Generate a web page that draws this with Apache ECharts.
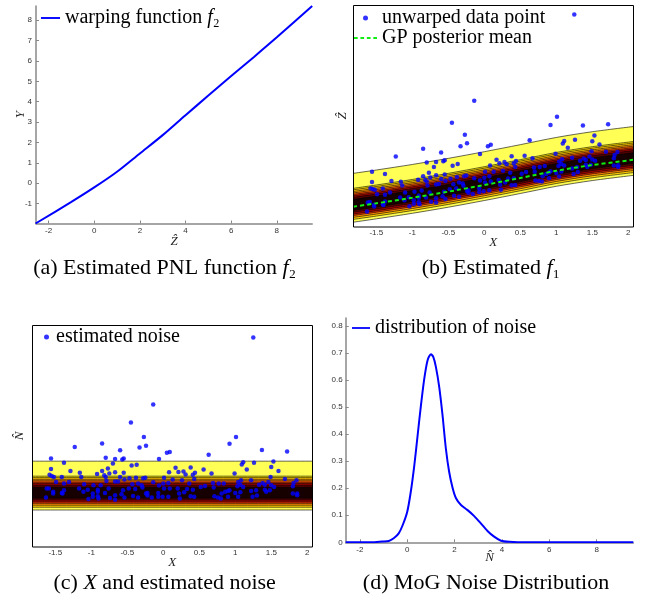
<!DOCTYPE html>
<html><head><meta charset="utf-8">
<script src="https://cdn.jsdelivr.net/npm/echarts@6/dist/echarts.min.js"></script>
<style>html,body{margin:0;padding:0;background:#fff}#c{width:649px;height:605px}</style>
</head><body><div id="c"></div>
<script>
// (a) warping function f2
const warpZ = [-2.57, -1, 0, 1, 2, 3, 4, 5, 6, 7, 8, 9.55];
const warpY = [-1.98, -0.92, -0.21, 0.56, 1.46, 2.36, 3.34, 4.30, 5.26, 6.20, 7.16, 8.70];
// (b)/(c) data: X, estimated noise N, unwarped value Z
const dataX = [1.25,-0.14,-0.45,-0.27,1.01,-1.23,-0.85,-0.60,-0.33,-0.24,0.05,0.09,-1.56,-0.80,-0.67,-0.57,-0.55,-0.06,-1.38,-0.70,
-0.44,-0.37,-1.56,-0.77,-1.29,-0.85,-1.16,-0.92,-0.75,-0.67,-0.55,-1.58,-1.55,-1.52,-1.41,-1.14,-0.80,-0.82,-0.60,-0.47,
-0.38,-0.28,-0.25,0.01,0.08,-1.49,-1.31,-1.38,-1.10,-0.97,-0.87,-0.79,-0.67,-0.63,-0.54,-0.43,-0.35,-0.30,-0.14,-0.06,
0.00,0.07,-1.62,-1.59,-1.53,-1.41,-1.38,-1.17,-1.05,-0.98,-0.91,-0.91,-0.76,-0.56,-0.48,-0.39,-0.29,-0.22,-0.07,0.01,
0.09,-1.63,-1.53,-1.40,-1.11,-1.04,-0.98,-0.91,-0.90,-0.81,-0.74,-0.67,-0.67,-0.58,-0.54,-0.42,-0.35,-0.24,-0.22,-0.16,
-0.07,-0.01,0.07,0.92,1.37,1.72,0.63,1.11,1.09,1.26,1.53,1.50,1.60,0.17,0.21,0.28,0.38,0.44,0.31,0.41,
0.56,0.67,0.99,1.16,1.49,0.13,0.26,0.43,1.08,1.04,1.22,1.69,1.85,1.81,0.36,0.52,0.58,0.69,0.77,0.70,
0.84,1.03,1.07,1.11,1.33,1.38,1.41,1.46,1.50,1.54,1.80,0.20,0.33,0.41,0.29,0.22,1.00,1.07,0.90,0.92,
0.86,0.81,1.22,1.29,1.41,1.43,1.48,1.80,1.86,1.86,0.23,0.38,0.43,0.71,0.76,0.80,0.90,1.04,1.24,1.30];
const noiseN = [8.83,5.20,4.23,3.45,3.45,2.91,3.09,2.73,2.88,2.97,2.59,2.64,2.28,2.32,2.26,2.23,2.28,2.26,2.05,2.01,
1.90,1.94,1.72,1.74,1.61,1.61,1.51,1.45,1.47,1.54,1.51,1.40,1.34,1.29,1.29,1.29,1.29,1.38,1.29,1.22,
1.25,1.22,1.24,1.25,1.54,1.02,1.02,0.93,0.89,0.84,0.84,1.07,1.04,1.04,1.15,0.89,0.93,0.84,1.00,0.82,
0.93,0.96,0.66,0.66,0.48,0.42,0.57,0.66,0.60,0.39,0.60,0.48,0.66,0.57,0.66,0.64,0.71,0.42,0.42,0.66,
0.66,0.17,0.39,0.39,0.48,0.10,0.21,0.24,0.12,0.42,0.15,0.30,0.06,0.35,0.17,0.26,0.17,0.39,0.28,0.17,
0.21,0.21,0.21,3.08,2.75,2.66,2.48,2.08,1.96,2.05,2.12,1.83,1.61,1.78,1.56,1.58,1.80,1.51,1.42,1.40,
1.69,1.47,1.47,1.69,1.29,1.15,1.11,1.18,1.11,1.02,1.11,1.18,1.11,0.96,0.93,0.75,0.80,0.96,0.93,0.71,
0.93,0.78,0.87,0.75,0.87,0.96,0.86,1.02,0.84,0.75,0.78,0.66,0.64,0.60,0.46,0.39,0.42,0.46,0.53,0.57,
0.48,0.39,0.53,0.57,0.60,0.48,0.57,0.39,0.39,0.30,0.12,0.24,0.21,0.24,0.17,0.12,0.21,0.21,0.21,0.28];
const zHat = [8.98,4.33,3.13,2.49,3.46,1.31,1.73,1.53,1.87,2.03,1.86,1.94,0.49,0.99,1.02,1.05,1.11,1.45,0.36,0.75,
0.81,0.90,-0.07,0.43,-0.02,0.25,-0.05,0.05,0.17,0.30,0.34,-0.40,-0.45,-0.48,-0.42,-0.25,-0.04,0.04,0.09,0.11,
0.20,0.25,0.29,0.49,0.83,-0.73,-0.63,-0.76,-0.63,-0.60,-0.53,-0.25,-0.20,-0.18,-0.01,-0.19,-0.10,-0.15,0.13,0.01,
0.16,0.24,-1.17,-1.15,-1.30,-1.29,-1.12,-0.90,-0.89,-1.06,-0.80,-0.92,-0.64,-0.60,-0.46,-0.41,-0.27,-0.51,-0.40,-0.10,
-0.04,-1.66,-1.39,-1.31,-1.05,-1.38,-1.24,-1.16,-1.27,-0.91,-1.14,-0.94,-1.18,-0.84,-0.99,-0.81,-0.86,-0.55,-0.65,-0.71,
-0.61,-0.57,-0.51,3.02,2.98,3.06,2.19,2.15,2.01,2.21,2.44,2.14,1.96,1.14,0.95,1.02,1.32,1.07,0.89,0.94,
1.35,1.22,1.46,1.79,1.59,0.48,0.54,0.74,1.16,1.04,1.24,1.57,1.56,1.39,0.43,0.38,0.47,0.72,0.75,0.48,
0.80,0.80,0.91,0.82,1.08,1.20,1.12,1.31,1.15,1.08,1.21,0.04,0.12,0.14,-0.09,-0.21,0.42,0.50,0.45,0.51,
0.37,0.24,0.66,0.75,0.86,0.75,0.87,0.82,0.84,0.75,-0.48,-0.24,-0.23,0.02,-0.02,-0.04,0.13,0.23,0.36,0.47];
// GP posterior mean (b)
const meanX = [-1.82, -1.5, -1.0, -0.5, 0.0, 0.5, 1.0, 1.5, 2.07];
const meanZ = [-1.40, -1.22, -0.92, -0.59, -0.23, 0.15, 0.54, 0.85, 1.13];
// contour levels of the noise density band, in N coordinates (c)
const contourLevels = [-0.50,-0.35,-0.24,-0.14,-0.06,0.04,0.14,0.73,0.84,0.93,1.00,1.08,1.16,1.25,1.33,2.14];
const bandColors = ['#ffff55','#ffcc00','#ff8c00','#e83000','#a00000','#580000','#160000','#580000','#a00000','#e83000','#ff6000','#ff9a00','#ffc400','#ffe600','#ffff55'];
const meanLevelN = 0.34;
const cX = [-1.82, 2.07];
const cBase = [0, 0];
// (d) MoG noise density
const densX = [-2.6,-1.5,-1.06,-0.78,-0.57,-0.36,-0.19,0,0.15,0.30,0.44,0.58,0.72,0.86,1.00,1.10,1.21,1.35,1.49,1.63,1.77,1.92,2.06,2.27,2.55,2.83,3.11,3.39,3.67,3.96,4.31,5.0,9.55];
const densY = [0,0,0.003,0.005,0.015,0.033,0.064,0.113,0.187,0.286,0.397,0.508,0.606,0.674,0.696,0.686,0.649,0.575,0.471,0.348,0.261,0.200,0.163,0.138,0.119,0.097,0.070,0.042,0.021,0.006,0.002,0,0];
// tick labels
const aXTicks = [-2,0,2,4,6,8];
const aYTicks = [-1,0,1,2,3,4,5,6,7,8];
const bcXTicks = [-1.5,-1,-0.5,0,0.5,1,1.5,2];
const dXTicks = [-2,0,2,4,6,8];
const dYTicks = [0,0.1,0.2,0.3,0.4,0.5,0.6,0.7,0.8];

const SERIF = "'Liberation Serif','DejaVu Serif',serif";
const SANS = "'Liberation Sans','DejaVu Sans',sans-serif";
const zip = (a, b) => a.map((v, i) => [v, b[i]]);

// legend icons: a solid line and a dashed line
const SOLID_ICON = 'path://M0,0h10v1h-10z';
const DASH_ICON = 'path://M0,0h4v2h-4z M7,0h4v2h-4z M14,0h4v2h-4z M21,0h4v2h-4z';

// filled contour bands: each boundary is filled down to the axis start, top boundary first,
// so the band between two boundaries keeps the colour of the upper boundary's fill
function bandSeries(xs, base, offs, idx) {
  const out = [];
  for (let k = offs.length - 1; k >= 0; k--) {
    out.push({
      type: 'line', xAxisIndex: idx, yAxisIndex: idx,
      data: xs.map((x, i) => [x, base[i] + offs[k]]),
      symbol: 'none', showSymbol: false, smooth: 0.3, silent: true, z: 1,
      lineStyle: { color: '#000', width: 0.6 },
      areaStyle: { color: k > 0 ? bandColors[k - 1] : '#ffffff', opacity: 1, origin: 'start' }
    });
  }
  return out;
}

const tickLbl = (vals, margin) => ({ customValues: vals, fontSize: 8, color: '#333', fontFamily: SANS, margin: margin });
const nameStyle = { fontFamily: SERIF, fontStyle: 'italic', fontSize: 13, color: '#222' };
const grayLine = { show: true, onZero: false, lineStyle: { color: '#888', width: 1.5 } };

const legendText = { fontFamily: SERIF, fontSize: 20, color: '#000', lineHeight: 18,
  rich: { i: { fontFamily: SERIF, fontStyle: 'italic', fontSize: 20, lineHeight: 18, color: '#000' } } };
const capRich = { i: { fontFamily: SERIF, fontStyle: 'italic', fontSize: 22, fill: '#000' } };

const chart = echarts.init(document.getElementById('c'), null, { renderer: 'canvas' });
chart.setOption({
  animation: false,
  grid: [
    { left: 36, top: 6, width: 276.2, height: 217.5, outerBoundsMode: 'none' },
    { left: 353.3, top: 5, width: 280, height: 222, outerBoundsMode: 'none' },
    { left: 32.3, top: 325, width: 280, height: 222, outerBoundsMode: 'none' },
    { left: 345.7, top: 318, width: 287.6, height: 224.3, outerBoundsMode: 'none' }
  ],
  xAxis: [
    { gridIndex: 0, type: 'value', min: -2.55, max: 9.55, axisLine: grayLine,
      axisTick: { show: true, inside: true, length: 3, customValues: aXTicks, lineStyle: { color: '#888' } },
      axisLabel: tickLbl(aXTicks, 3), splitLine: { show: false },
      name: 'Ẑ', nameLocation: 'middle', nameGap: 12, nameMoveOverlap: false, nameTextStyle: nameStyle },
    { gridIndex: 1, type: 'value', min: -1.82, max: 2.07, axisLine: { show: false }, axisTick: { show: false },
      axisLabel: tickLbl(bcXTicks, 2), splitLine: { show: false },
      name: 'X', nameLocation: 'middle', nameGap: 9, nameMoveOverlap: false, nameTextStyle: nameStyle },
    { gridIndex: 2, type: 'value', min: -1.82, max: 2.07, axisLine: { show: false }, axisTick: { show: false },
      axisLabel: tickLbl(bcXTicks, 2), splitLine: { show: false },
      name: 'X', nameLocation: 'middle', nameGap: 9, nameMoveOverlap: false, nameTextStyle: nameStyle },
    { gridIndex: 3, type: 'value', min: -2.6, max: 9.55, axisLine: grayLine,
      axisTick: { show: true, inside: true, length: 3, customValues: dXTicks, lineStyle: { color: '#888' } },
      axisLabel: tickLbl(dXTicks, 3), splitLine: { show: false },
      name: 'N\u0302', nameLocation: 'middle', nameGap: 9, nameMoveOverlap: false, nameTextStyle: nameStyle }
  ],
  yAxis: [
    { gridIndex: 0, type: 'value', min: -1.98, max: 8.7, axisLine: grayLine,
      axisTick: { show: true, inside: true, length: 3, customValues: aYTicks, lineStyle: { color: '#888' } },
      axisLabel: tickLbl(aYTicks, 4), splitLine: { show: false },
      name: 'Y', nameLocation: 'middle', nameRotate: 90, nameGap: 9, nameMoveOverlap: false, nameTextStyle: nameStyle },
    { gridIndex: 1, type: 'value', min: -2.5, max: 9.5, axisLine: { show: false }, axisTick: { show: false },
      axisLabel: { show: false }, splitLine: { show: false },
      name: 'Ẑ', nameLocation: 'middle', nameRotate: 90, nameGap: 4, nameMoveOverlap: false, nameTextStyle: nameStyle },
    { gridIndex: 2, type: 'value', min: -2.5, max: 9.5, axisLine: { show: false }, axisTick: { show: false },
      axisLabel: { show: false }, splitLine: { show: false },
      name: 'N\u0302', nameLocation: 'middle', nameRotate: 90, nameGap: 6, nameMoveOverlap: false, nameTextStyle: nameStyle },
    { gridIndex: 3, type: 'value', min: 0, max: 0.83, axisLine: grayLine,
      axisTick: { show: true, inside: true, length: 3, customValues: dYTicks, lineStyle: { color: '#888' } },
      axisLabel: tickLbl(dYTicks, 3), splitLine: { show: false } }
  ],
  legend: [
    { data: [{ name: 'warping function f2', icon: SOLID_ICON }], left: 41, top: 8, padding: 0, itemWidth: 19, itemHeight: 2,
      selectedMode: false, textStyle: legendText, formatter: () => 'warping function {i|f}₂' },
    { data: ['unwarped data point', { name: 'GP posterior mean', icon: DASH_ICON }], orient: 'vertical', left: 354, top: 8, padding: 0,
      itemGap: 0, itemWidth: 23, itemHeight: 5, selectedMode: false, textStyle: legendText },
    { data: ['estimated noise'], left: 44, top: 327, padding: 0, itemWidth: 9, itemHeight: 5,
      selectedMode: false, textStyle: legendText },
    { data: [{ name: 'distribution of noise', icon: SOLID_ICON }], left: 352, top: 318, padding: 0, itemWidth: 18, itemHeight: 2,
      selectedMode: false, textStyle: legendText }
  ],
  graphic: [
    { type: 'rect', silent: true, z: 100, shape: { x: 353.5, y: 5.5, width: 280, height: 221.5 },
      style: { fill: 'none', stroke: '#000', lineWidth: 1 } },
    { type: 'rect', silent: true, z: 100, shape: { x: 32.5, y: 325.5, width: 280, height: 221.5 },
      style: { fill: 'none', stroke: '#000', lineWidth: 1 } },
    { type: 'text', x: 164.7, y: 268, silent: true, style: { text: '(a) Estimated PNL function {i|f}₂',
      fontFamily: SERIF, fontSize: 22, fill: '#000', align: 'center', verticalAlign: 'middle', rich: capRich } },
    { type: 'text', x: 491, y: 268, silent: true, style: { text: '(b) Estimated {i|f}₁',
      fontFamily: SERIF, fontSize: 22, fill: '#000', align: 'center', verticalAlign: 'middle', rich: capRich } },
    { type: 'text', x: 164.7, y: 583, silent: true, style: { text: '(c) {i|X} and estimated noise',
      fontFamily: SERIF, fontSize: 22, fill: '#000', align: 'center', verticalAlign: 'middle', rich: capRich } },
    { type: 'text', x: 486, y: 583, silent: true, style: { text: '(d) MoG Noise Distribution',
      fontFamily: SERIF, fontSize: 22, fill: '#000', align: 'center', verticalAlign: 'middle' } }
  ],
  series: [
    { name: 'warping function f2', type: 'line', xAxisIndex: 0, yAxisIndex: 0, data: zip(warpZ, warpY),
      symbol: 'none', showSymbol: false, smooth: 0.3, lineStyle: { color: '#0000ff', width: 2 }, itemStyle: { color: '#0000ff' } },
    ...bandSeries(meanX, meanZ, contourLevels.map(l => l - meanLevelN), 1),
    { name: 'unwarped data point', type: 'scatter', xAxisIndex: 1, yAxisIndex: 1, data: zip(dataX, zHat),
      symbol: 'circle', symbolSize: 4.5, itemStyle: { color: '#0000ff' }, z: 3 },
    { name: 'GP posterior mean', type: 'line', xAxisIndex: 1, yAxisIndex: 1, data: zip(meanX, meanZ),
      symbol: 'none', showSymbol: false, smooth: 0.3, z: 4,
      lineStyle: { color: '#11ee11', width: 2, type: [4, 3] }, itemStyle: { color: '#11ee11' } },
    ...bandSeries(cX, cBase, contourLevels, 2),
    { name: 'estimated noise', type: 'scatter', xAxisIndex: 2, yAxisIndex: 2, data: zip(dataX, noiseN),
      symbol: 'circle', symbolSize: 4.5, itemStyle: { color: '#0000ff' }, z: 3 },
    { name: 'distribution of noise', type: 'line', xAxisIndex: 3, yAxisIndex: 3, data: zip(densX, densY),
      symbol: 'none', showSymbol: false, smooth: 0.25, lineStyle: { color: '#0000ff', width: 2 }, itemStyle: { color: '#0000ff' } }
  ]
});
</script>
</body></html>
